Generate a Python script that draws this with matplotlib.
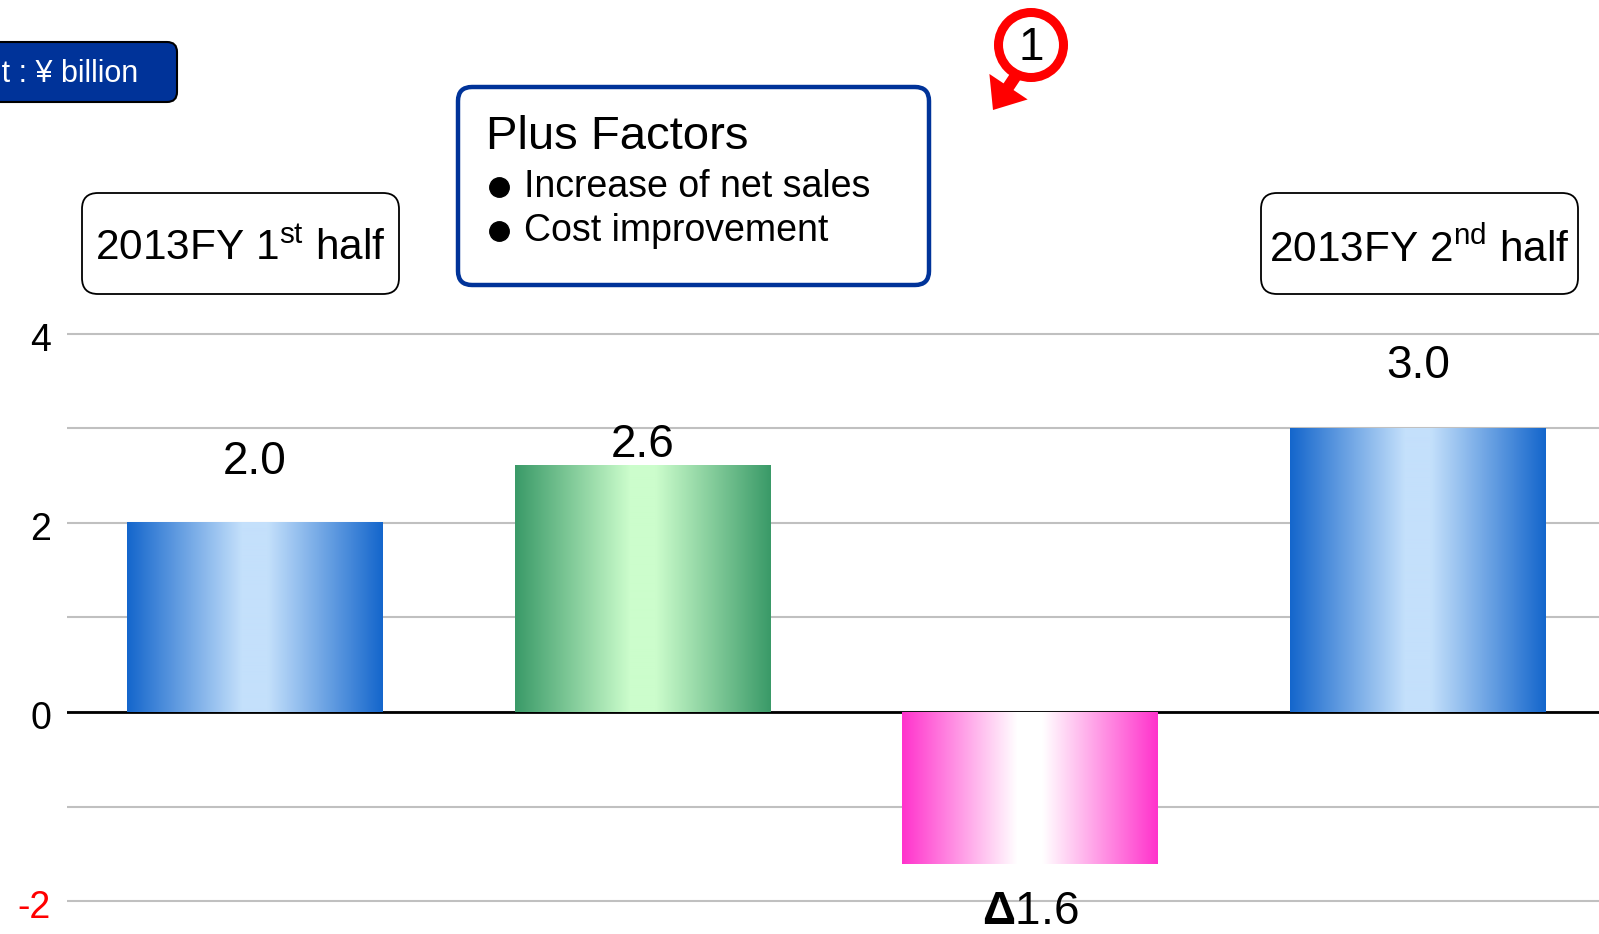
import numpy as np
import matplotlib
matplotlib.use("Agg")
import matplotlib.pyplot as plt
import matplotlib.transforms as mtransforms
from matplotlib.colors import LinearSegmentedColormap
from matplotlib.patches import FancyBboxPatch, Circle, FancyArrow

plt.rcParams['font.family'] = ['Liberation Sans', 'DejaVu Sans']
plt.rcParams['mathtext.fontset'] = 'custom'
plt.rcParams['mathtext.rm'] = 'Liberation Sans'
plt.rcParams['mathtext.bf'] = 'Liberation Sans:bold'

# data
values = [2.0, 2.6, -1.6, 3.0]
value_labels = ["2.0", "2.6", "$\\mathbf{\\Delta}$1.6", "3.0"]
ytick_vals = [-2, -1, 0, 1, 2, 3, 4]
ytick_labels = ["-2", "", "0", "", "2", "", "4"]
ytick_colors = ["red", "black", "black", "black", "black", "black", "black"]
plus_title = "Plus Factors"
plus_items = ["Increase of net sales", "Cost improvement"]

# gradient colour sets (edge, centre) per bar
grads = [("#1466cc", "#c4e0fb"), ("#3a9a68", "#ccfdcc"),
         ("#ff33cc", "#ffffff"), ("#1466cc", "#c4e0fb")]
label_off = [44, 15, -35, 45]  # points

fig = plt.figure(figsize=(15.99, 9.34), dpi=100)
ax = fig.add_axes([67/1599, 0.0044, 1 - 67/1599, 0.6436])

w = 0.66
xs = np.arange(len(values))
g = np.linspace(0, 1, 256)[np.newaxis, :]
for x, v, (edge, mid) in zip(xs, values, grads):
    cmap = LinearSegmentedColormap.from_list(
        "g", [(0, edge), (0.45, mid), (0.55, mid), (1, edge)])
    ax.imshow(g, extent=[x - w/2, x + w/2, min(0, v), max(0, v)],
              cmap=cmap, aspect='auto', zorder=3, interpolation='bilinear')

for x, v, lab, off in zip(xs, values, value_labels, label_off):
    ax.annotate(lab, (x, v), xytext=(0, off), textcoords='offset points',
                ha='center', va='center', fontsize=33, zorder=5)

ax.set_xlim(-0.485, 3.467)
ax.set_ylim(-2.3, 4.05)
ax.set_yticks(ytick_vals)
ax.set_yticklabels([])
ax.tick_params(axis='y', length=0)
ax.set_xticks([])
for s in ax.spines.values():
    s.set_visible(False)
ax.grid(axis='y', color='#c0c0c0', lw=1.5, zorder=1)
ax.set_axisbelow(True)
ax.axhline(0, color='black', lw=2, zorder=2)

# tick labels sit a little below their gridlines in the original
lab_tr = ax.get_yaxis_transform() + mtransforms.ScaledTranslation(-16/100, -7/100, fig.dpi_scale_trans)
for yv, lab, c in zip(ytick_vals, ytick_labels, ytick_colors):
    ax.text(0, yv, lab, transform=lab_tr, ha='right', va='center',
            fontsize=27, color=c, clip_on=False)

# overlay in pixel coordinates for the decorations
ov = fig.add_axes([0, 0, 1, 1], zorder=10)
ov.set_xlim(0, 1599)
ov.set_ylim(934, 0)
ov.axis('off')

# unit box
ov.add_patch(FancyBboxPatch((-40, 42), 217, 60, boxstyle="round,pad=0,rounding_size=10",
                            fc='#003399', ec='black', lw=1.5))
ov.text(138, 82, "Unit : \u00a5 billion", color='white', fontsize=22,
        ha='right', va='baseline')

# period boxes
for x0, txt in [(82, "2013FY 1$^{\\mathrm{st}}$ half"), (1261, "2013FY 2$^{\\mathrm{nd}}$ half")]:
    ov.add_patch(FancyBboxPatch((x0, 193), 317, 101, boxstyle="round,pad=0,rounding_size=16",
                                fc='white', ec='black', lw=1.3))
    ov.text(x0 + 158, 249, txt, fontsize=30.5, ha='center', va='center')

# plus factors box
ov.add_patch(FancyBboxPatch((458, 87), 471, 198, boxstyle="round,pad=0,rounding_size=14",
                            fc='white', ec='#003399', lw=3.2))
ov.text(486, 137, plus_title, fontsize=34, ha='left', va='center')
for i, item in enumerate(plus_items):
    yy = 187 + 44 * i
    ov.plot(499, yy, 'o', color='black', ms=14)
    ov.text(524, yy, item, fontsize=27, ha='left', va='center')

# circled number with arrow
ov.add_patch(FancyArrow(1017, 74, -24, 36, width=12, head_width=46, head_length=28,
                        length_includes_head=True, color='red', lw=0, zorder=1))
ov.add_patch(Circle((1031, 45), 32.5, fc='white', ec='red', lw=6.5, zorder=2))
ov.text(1031, 48, "1", fontsize=33, ha='center', va='center', zorder=3)

fig.savefig("out.png", dpi=100)
